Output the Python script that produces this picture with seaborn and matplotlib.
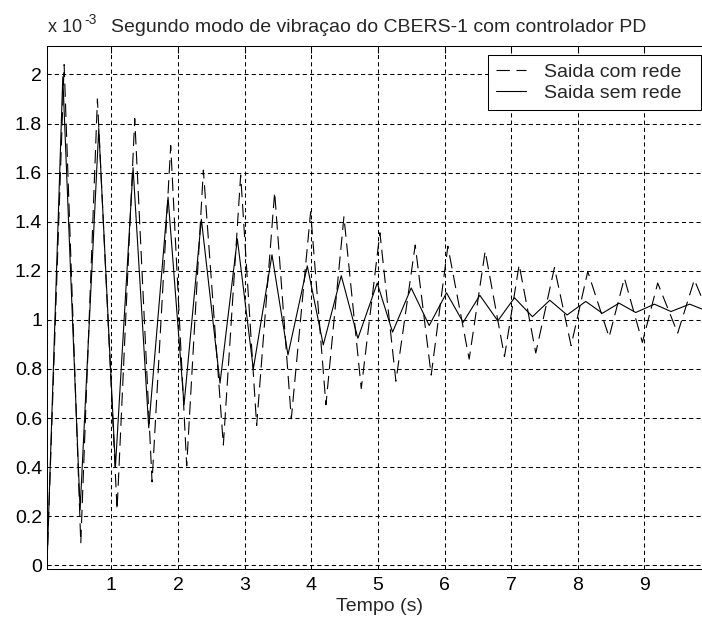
import matplotlib
matplotlib.use('Agg')
import matplotlib.pyplot as plt
import seaborn as sns

# picos e vales (tempo em s, saida em unidades de 10^-3)
t_com_rede = [0.033, 0.29, 0.54, 0.79, 1.085, 1.35, 1.61, 1.89, 2.13, 2.38,
              2.68, 2.94, 3.18, 3.45, 3.70, 3.99, 4.22, 4.49, 4.75, 5.03,
              5.27, 5.56, 5.80, 6.05, 6.37, 6.61, 6.90, 7.12, 7.37, 7.65,
              7.90, 8.15, 8.47, 8.70, 8.97, 9.20, 9.50, 9.75, 10.0]
y_com_rede = [0.0, 2.04, 0.09, 1.90, 0.226, 1.82, 0.34, 1.71, 0.405, 1.61,
              0.49, 1.59, 0.57, 1.52, 0.597, 1.44, 0.654, 1.42, 0.72, 1.355,
              0.75, 1.305, 0.775, 1.30, 0.84, 1.28, 0.85, 1.225, 0.865, 1.213,
              0.895, 1.197, 0.93, 1.17, 0.908, 1.15, 0.946, 1.163, 1.0]

t_sem_rede = [0.033, 0.27, 0.53, 0.81, 1.06, 1.325, 1.56, 1.85, 2.09, 2.35,
              2.63, 2.89, 3.13, 3.41, 3.65, 3.94, 4.18, 4.45, 4.70, 4.99,
              5.22, 5.50, 5.77, 6.03, 6.28, 6.53, 6.80, 7.05, 7.32, 7.58,
              7.84, 8.12, 8.37, 8.62, 8.87, 9.15, 9.40, 9.68, 9.94]
y_sem_rede = [0.0, 1.99, 0.226, 1.78, 0.40, 1.62, 0.56, 1.50, 0.654, 1.41,
              0.742, 1.33, 0.80, 1.265, 0.857, 1.22, 0.898, 1.18, 0.925, 1.15,
              0.95, 1.13, 0.977, 1.11, 0.99, 1.10, 0.996, 1.09, 1.013, 1.08,
              1.02, 1.075, 1.027, 1.068, 1.03, 1.064, 1.034, 1.064, 1.036]

x_ticks = [1, 2, 3, 4, 5, 6, 7, 8, 9]
y_ticks = [0, 0.2, 0.4, 0.6, 0.8, 1.0, 1.2, 1.4, 1.6, 1.8, 2.0]
y_tick_labels = ['0', '0.2', '0.4', '0.6', '0.8', '1', '1.2', '1.4', '1.6', '1.8', '2']

FS = 14

sns.set_style('white')
plt.rcParams['font.family'] = ['Liberation Sans', 'DejaVu Sans']

fig = plt.figure(figsize=(7.02, 6.28), dpi=100)
# eixo vai um pouco alem da borda direita (figura original recortada)
ax = fig.add_axes([47 / 702, 1 - 569 / 628, (711 - 47) / 702, (569 - 45.7) / 628])

sns.lineplot(x=t_com_rede, y=y_com_rede, ax=ax, color='k', lw=0.8,
             linestyle=(0, (12, 6)), label='Saida com rede')
sns.lineplot(x=t_sem_rede, y=y_sem_rede, ax=ax, color='k', lw=0.8,
             label='Saida sem rede')

ax.set_xlim(0.033, 10.0)
ax.set_ylim(-0.015, 2.117)
ax.set_xticks(x_ticks)
ax.set_yticks(y_ticks)
ax.set_yticklabels(y_tick_labels)
ax.grid(True, color='k', lw=0.75, linestyle=(0, (4, 3)))
ax.tick_params(direction='in', length=5, width=0.75, top=True, right=True,
               labelsize=FS, colors='k')
ax.tick_params(axis='x', pad=5.5)
ax.tick_params(axis='y', pad=3.6)
for s in ax.spines.values():
    s.set_color('k')
    s.set_linewidth(0.75)

ax.set_xlabel('Tempo (s)', fontsize=FS, labelpad=3)
ax.set_ylabel('')
ax.set_title('Segundo modo de vibraçao do CBERS-1 com controlador PD',
             fontsize=FS, pad=10)
# multiplicador do eixo y
fig.text(48 / 702, 1 - 32 / 628, 'x 10', fontsize=13, va='baseline', ha='left')
fig.text(84 / 702, 1 - 24 / 628, '-3', fontsize=10, va='baseline', ha='left')

leg = ax.legend(loc='upper left', bbox_to_anchor=(0.664, 0.5, 0.321, 0.482),
                mode='expand', borderaxespad=0,
                fontsize=FS, fancybox=False, framealpha=1, edgecolor='k',
                handlelength=1.55, handletextpad=0.93, borderpad=0.4, labelspacing=0.2)
leg.get_frame().set_linewidth(0.75)

fig.savefig('out.png', dpi=100, facecolor='white')
